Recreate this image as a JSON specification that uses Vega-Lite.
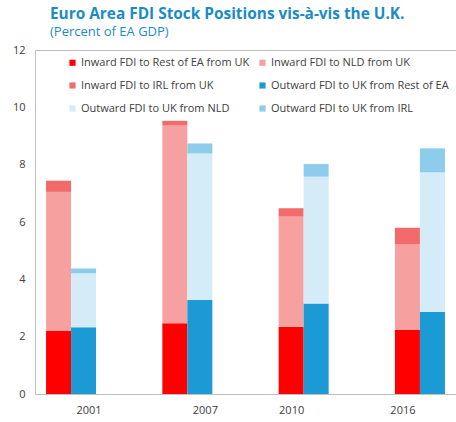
{
  "$schema": "https://vega.github.io/schema/vega-lite/v6.json",
  "width": 421,
  "height": 344,
  "autosize": {"type": "none"},
  "padding": {"left": 35, "top": 50, "right": 0, "bottom": 28},
  "background": "white",
  "title": {
    "text": "Euro Area FDI Stock Positions vis-à-vis the U.K.",
    "subtitle": "(Percent of EA GDP)",
    "anchor": "start",
    "frame": "group",
    "dx": 15,
    "offset": 5,
    "font": "Open Sans",
    "fontSize": 15.4,
    "fontWeight": "bold",
    "color": "#1B8BC6",
    "subtitleFont": "Open Sans",
    "subtitleFontSize": 13,
    "subtitleColor": "#1B8BC6",
    "subtitlePadding": 4
  },
  "config": {
    "view": {"stroke": null},
    "axis": {"labelFont": "Open Sans", "labelColor": "#404040", "labelFontSize": 11}
  },
  "data": {
    "values": [
      {"year": "2001", "dir": "Inward", "series": "Inward FDI to Rest of EA from UK", "ord": 1, "value": 2.2},
      {"year": "2001", "dir": "Inward", "series": "Inward FDI to NLD from UK", "ord": 2, "value": 4.85},
      {"year": "2001", "dir": "Inward", "series": "Inward FDI to IRL from UK", "ord": 3, "value": 0.39},
      {"year": "2001", "dir": "Outward", "series": "Outward FDI to UK from Rest of EA", "ord": 1, "value": 2.33},
      {"year": "2001", "dir": "Outward", "series": "Outward FDI to UK from NLD", "ord": 2, "value": 1.88},
      {"year": "2001", "dir": "Outward", "series": "Outward FDI to UK from IRL", "ord": 3, "value": 0.17},
      {"year": "2007", "dir": "Inward", "series": "Inward FDI to Rest of EA from UK", "ord": 1, "value": 2.47},
      {"year": "2007", "dir": "Inward", "series": "Inward FDI to NLD from UK", "ord": 2, "value": 6.91},
      {"year": "2007", "dir": "Inward", "series": "Inward FDI to IRL from UK", "ord": 3, "value": 0.15},
      {"year": "2007", "dir": "Outward", "series": "Outward FDI to UK from Rest of EA", "ord": 1, "value": 3.28},
      {"year": "2007", "dir": "Outward", "series": "Outward FDI to UK from NLD", "ord": 2, "value": 5.11},
      {"year": "2007", "dir": "Outward", "series": "Outward FDI to UK from IRL", "ord": 3, "value": 0.35},
      {"year": "2010", "dir": "Inward", "series": "Inward FDI to Rest of EA from UK", "ord": 1, "value": 2.35},
      {"year": "2010", "dir": "Inward", "series": "Inward FDI to NLD from UK", "ord": 2, "value": 3.84},
      {"year": "2010", "dir": "Inward", "series": "Inward FDI to IRL from UK", "ord": 3, "value": 0.29},
      {"year": "2010", "dir": "Outward", "series": "Outward FDI to UK from Rest of EA", "ord": 1, "value": 3.16},
      {"year": "2010", "dir": "Outward", "series": "Outward FDI to UK from NLD", "ord": 2, "value": 4.42},
      {"year": "2010", "dir": "Outward", "series": "Outward FDI to UK from IRL", "ord": 3, "value": 0.44},
      {"year": "2016", "dir": "Inward", "series": "Inward FDI to Rest of EA from UK", "ord": 1, "value": 2.23},
      {"year": "2016", "dir": "Inward", "series": "Inward FDI to NLD from UK", "ord": 2, "value": 3.0},
      {"year": "2016", "dir": "Inward", "series": "Inward FDI to IRL from UK", "ord": 3, "value": 0.57},
      {"year": "2016", "dir": "Outward", "series": "Outward FDI to UK from Rest of EA", "ord": 1, "value": 2.87},
      {"year": "2016", "dir": "Outward", "series": "Outward FDI to UK from NLD", "ord": 2, "value": 4.86},
      {"year": "2016", "dir": "Outward", "series": "Outward FDI to UK from IRL", "ord": 3, "value": 0.84}
    ]
  },
  "mark": {"type": "bar"},
  "encoding": {
    "x": {
      "field": "year",
      "type": "nominal",
      "scale": {"paddingInner": 0.57, "paddingOuter": 0.095},
      "axis": {
        "title": null,
        "labelAngle": 0,
        "ticks": false,
        "domainColor": "#BFBFBF",
        "labelPadding": 10,
        "labelOffset": {
          "condition": [
            {"test": "datum.value == '2001' || datum.value == '2007'", "value": 18},
            {"test": "datum.value == '2010'", "value": -12}
          ],
          "value": -17
        }
      }
    },
    "xOffset": {"field": "dir", "type": "nominal", "scale": {"paddingInner": 0, "paddingOuter": 0}},
    "y": {
      "field": "value",
      "type": "quantitative",
      "stack": "zero",
      "scale": {"domain": [0, 12], "nice": false},
      "axis": {
        "title": null,
        "values": [0, 2, 4, 6, 8, 10, 12],
        "ticks": false,
        "domainColor": "#BFBFBF",
        "labelPadding": 10,
        "grid": true,
        "gridColor": "#BFBFBF",
        "gridOpacity": {"condition": {"test": "datum.value == 12", "value": 1}, "value": 0}
      }
    },
    "color": {
      "field": "series",
      "type": "nominal",
      "scale": {
        "domain": [
          "Inward FDI to Rest of EA from UK",
          "Inward FDI to IRL from UK",
          "Outward FDI to UK from NLD",
          "Inward FDI to NLD from UK",
          "Outward FDI to UK from Rest of EA",
          "Outward FDI to UK from IRL"
        ],
        "range": ["#FF0000", "#F26A6A", "#D4ECF8", "#F7A0A0", "#1B9AD6", "#8ECCEC"]
      },
      "legend": {
        "title": null,
        "orient": "none",
        "legendX": 32,
        "legendY": 7,
        "columns": 2,
        "columnPadding": 7,
        "rowPadding": 11,
        "symbolType": "square",
        "symbolSize": 38,
        "symbolStrokeWidth": 0,
        "labelFont": "Open Sans",
        "labelFontSize": 11,
        "labelColor": "#404040",
        "labelLimit": 300,
        "labelOffset": 3
      }
    },
    "order": {"field": "ord", "type": "quantitative"}
  }
}
